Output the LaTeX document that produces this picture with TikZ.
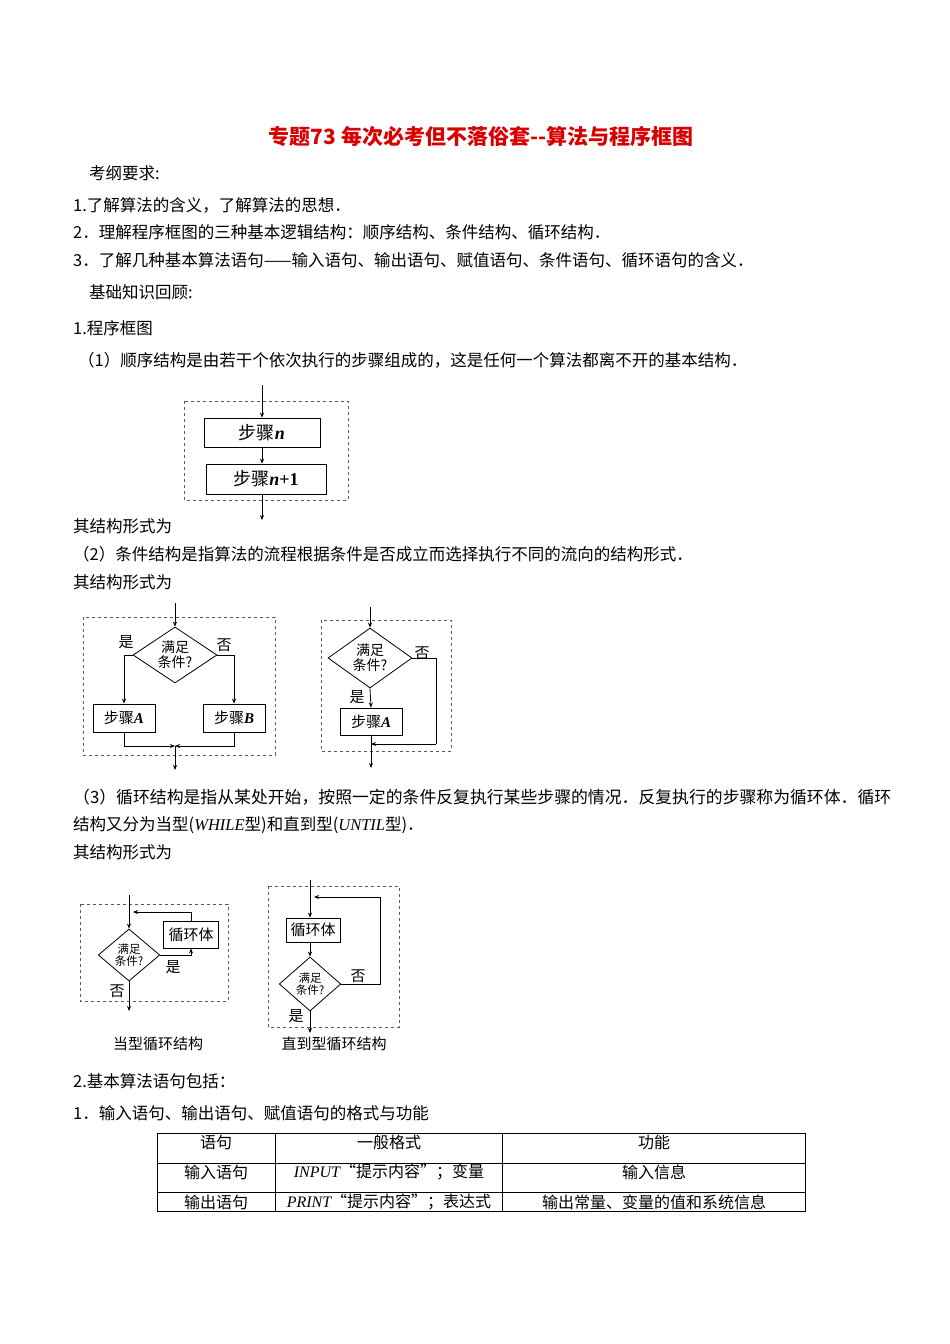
\documentclass[tikz,border=0pt]{standalone}
\usepackage{fontspec}
\setmainfont{Noto Sans CJK SC}
\newfontfamily\lat{Liberation Serif}
\usetikzlibrary{arrows.meta,shapes.geometric}
\begin{document}
\begin{tikzpicture}[x=1pt,y=-1pt,
  txt/.style={anchor=west,inner sep=0pt,font=\fontsize{16.5}{16.5}\selectfont},
  sbox/.style={draw,thick,inner sep=0pt,font=\fontsize{18}{18}\selectfont},
  dbox/.style={draw,thick,inner sep=0pt,font=\fontsize{15}{15}\selectfont},
  dia/.style={draw,thick,diamond,aspect=1.5,inner sep=0pt,font=\fontsize{14}{15}\selectfont,align=center},
  lab/.style={inner sep=0pt,font=\fontsize{15}{15}\selectfont},
  dash box/.style={draw,dashed,thick,gray!70!black},
  arr/.style={-{Stealth[length=5pt,width=4pt]},thick},
  ln/.style={thick}]
\useasboundingbox (0,0) rectangle (950,1344);
\fill[white] (0,0) rectangle (950,1344);
\node[anchor=center,inner sep=0pt,text=red!85!black,font=\fontsize{21}{21}\selectfont\bfseries] (title) at (481,137) {专题73 每次必考但不落俗套{-}{-}算法与程序框图};
\node[txt] (t1) at (89,173) {考纲要求:};
\node[txt] (t2) at (73,205) {1.了解算法的含义，了解算法的思想．};
\node[txt] (t3) at (73,232) {2．理解程序框图的三种基本逻辑结构：顺序结构、条件结构、循环结构．};
\node[txt] (t4) at (73,260) {3．了解几种基本算法语句——输入语句、输出语句、赋值语句、条件语句、循环语句的含义．};
\node[txt] (t5) at (89,292) {基础知识回顾:};
\node[txt] (t6) at (73,328) {1.程序框图};
\node[txt] (t7) at (78,360) {（1）顺序结构是由若干个依次执行的步骤组成的，这是任何一个算法都离不开的基本结构．};
\node[txt] (t8) at (73,526) {其结构形式为};
\node[txt] (t9) at (73,554) {（2）条件结构是指算法的流程根据条件是否成立而选择执行不同的流向的结构形式．};
\node[txt] (t10) at (73,582) {其结构形式为};
\node[txt] (t11) at (73,797) {\resizebox{818pt}{!}{（3）循环结构是指从某处开始，按照一定的条件反复执行某些步骤的情况．反复执行的步骤称为循环体．循环}};
\node[txt] (t12) at (73,825) {结构又分为当型({\lat\itshape WHILE}型)和直到型({\lat\itshape UNTIL}型)．};
\node[txt] (t13) at (73,852) {其结构形式为};
\node[txt] (t14) at (73,1081) {2.基本算法语句包括：};
\node[txt] (t15) at (73,1113) {1．输入语句、输出语句、赋值语句的格式与功能};

% Diagram 1
\draw[dash box] (184,401) rectangle (348,500);
\node[sbox,minimum width=116pt,minimum height=29pt] (sn) at (262,432.5) {步骤{\lat\bfseries\itshape n}};
\node[sbox,minimum width=120pt,minimum height=30pt] (sn1) at (266,479) {步骤{\lat\bfseries\itshape n}{\lat\bfseries +1}};
\coordinate (s0) at (262,385);
\coordinate (s9) at (262,520);
\draw[arr] (s0) -- (sn.north);
\draw[arr] (sn.south) -- (sn1.north -| sn.south);
\draw[arr] (sn1.south -| sn.south) -- (s9);

% Diagram 2 left
\draw[dash box] (83,617) rectangle (275,755);
\node[dia,minimum width=84pt,minimum height=56pt] (c1) at (175,655) {满足\\条件?};
\node[dbox,minimum width=62pt,minimum height=28pt] (a1) at (124,718) {步骤{\lat\bfseries\itshape A}};
\node[dbox,minimum width=62pt,minimum height=28pt] (b1) at (234,718) {步骤{\lat\bfseries\itshape B}};
\coordinate (c1in) at (175,603);
\coordinate (c1m) at (175,746);
\coordinate (c1out) at (175,770);
\draw[arr] (c1in) -- (c1.north);
\draw[arr] (c1.west) -| (a1.north);
\draw[arr] (c1.east) -| (b1.north);
\draw[arr] (a1.south) |- (c1m);
\draw[arr] (b1.south) |- (c1m);
\draw[arr] (c1m) -- (c1out);
\node[lab] (y1) at (126,642) {是};
\node[lab] (n1) at (224,645) {否};

% Diagram 2 right
\draw[dash box] (321,620) rectangle (451,751);
\node[dia,minimum width=84pt,minimum height=60pt] (c2) at (370,658) {满足\\条件?};
\node[dbox,minimum width=62pt,minimum height=27pt] (a2) at (371,721.5) {步骤{\lat\bfseries\itshape A}};
\coordinate (c2in) at (370,607);
\coordinate (c2r) at (436,744);
\coordinate (c2m) at (371,744);
\coordinate (c2out) at (371,768);
\draw[arr] (c2in) -- (c2.north);
\draw[arr] (c2.south) -- (a2.north);
\draw[ln] (c2.east) -| (c2r);
\draw[arr] (c2r) -- (c2m);
\draw[arr] (a2.south) -- (c2out);
\node[lab] (n2) at (422,653) {否};
\node[lab] (y2) at (357,697) {是};

% Diagram 3 left
\draw[dash box] (80,904) rectangle (228,1001);
\node[dia,minimum width=50pt,minimum height=52pt,font=\fontsize{11.5}{11.5}\selectfont] (c3) at (129,955) {满足\\条件?};
\node[dbox,minimum width=55pt,minimum height=27pt] (l3) at (191,934.5) {循环体};
\coordinate (c3in) at (129,895);
\coordinate (c3t) at (191,912);
\coordinate (c3j) at (129,912);
\coordinate (c3out) at (129,1011);
\draw[arr] (c3in) -- (c3.north);
\draw[arr] (l3.north) -- (c3t) -- ([xshift=4pt]c3j);
\draw[arr] (c3.east) -| (l3.south);
\draw[arr] (c3.south) -- (c3out);
\node[lab] (y3) at (173,967) {是};
\node[lab] (n3) at (117,991) {否};
\node[lab,font=\fontsize{15}{15}\selectfont] (cap3) at (158,1044) {当型循环结构};

% Diagram 3 right
\draw[dash box] (268,886) rectangle (399,1027);
\node[dbox,minimum width=54pt,minimum height=24pt] (l4) at (313,930) {循环体};
\node[dia,minimum width=52pt,minimum height=54pt,font=\fontsize{11.5}{11.5}\selectfont] (c4) at (310,984) {满足\\条件?};
\coordinate (c4in) at (310,880);
\coordinate (c4r) at (380,897);
\coordinate (c4j) at (314,897);
\coordinate (c4out) at (310,1033);
\draw[arr] (c4in) -- (l4.north -| c4in);
\draw[arr] (l4.south -| c4.north) -- (c4.north);
\draw[ln] (c4.east) -| (c4r);
\draw[arr] (c4r) -- (c4j);
\draw[arr] (c4.south) -- (c4out);
\node[lab] (n4) at (358,976) {否};
\node[lab] (y4) at (296,1016) {是};
\node[lab,font=\fontsize{15}{15}\selectfont] (cap4) at (334,1044) {直到型循环结构};

% Table
\draw (157,1133) rectangle (805,1211);
\draw (157,1163) -- (805,1163);
\draw (157,1192) -- (805,1192);
\draw (275,1133) -- (275,1211);
\draw (502,1133) -- (502,1211);
\node[lab,font=\fontsize{16}{16}\selectfont] (h1) at (216,1142) {语句};
\node[lab,font=\fontsize{16}{16}\selectfont] (h2) at (389,1142) {一般格式};
\node[lab,font=\fontsize{16}{16}\selectfont] (h3) at (654,1142) {功能};
\node[lab,font=\fontsize{16}{16}\selectfont] (r1) at (216,1172) {输入语句};
\node[lab,font=\fontsize{16}{16}\selectfont] (r2) at (389,1172) {{\lat\itshape INPUT}“提示内容”；变量};
\node[lab,font=\fontsize{16}{16}\selectfont] (r3) at (654,1172) {输入信息};
\node[lab,font=\fontsize{16}{16}\selectfont] (s1) at (216,1202) {输出语句};
\node[lab,font=\fontsize{16}{16}\selectfont] (s2) at (389,1202) {{\lat\itshape PRINT}“提示内容”；表达式};
\node[lab,font=\fontsize{16}{16}\selectfont] (s3) at (654,1202) {输出常量、变量的值和系统信息};
\end{tikzpicture}
\end{document}
